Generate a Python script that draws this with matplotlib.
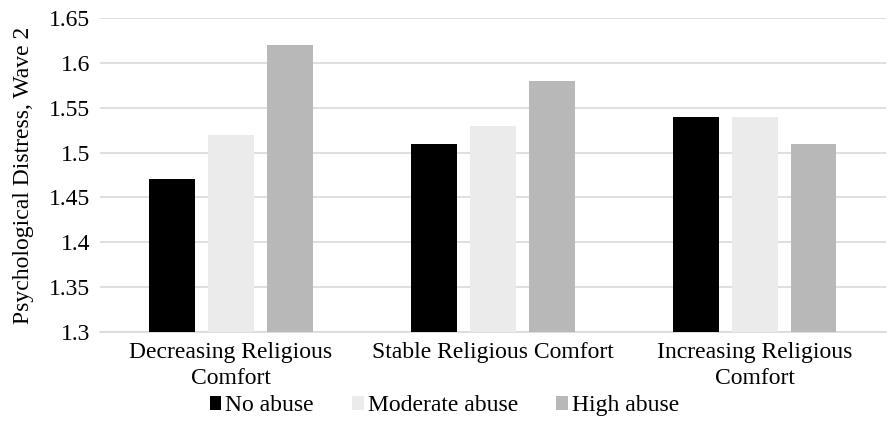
import matplotlib.pyplot as plt
import numpy as np

categories = ["Decreasing Religious\nComfort", "Stable Religious Comfort", "Increasing Religious\nComfort"]
series_names = ["No abuse", "Moderate abuse", "High abuse"]
no_abuse = [1.47, 1.51, 1.54]
moderate_abuse = [1.52, 1.53, 1.54]
high_abuse = [1.62, 1.58, 1.51]
y_ticks = [1.3, 1.35, 1.4, 1.45, 1.5, 1.55, 1.6, 1.65]
y_tick_labels = ["1.3", "1.35", "1.4", "1.45", "1.5", "1.55", "1.6", "1.65"]

colors = ["#000000", "#EBEBEB", "#B8B8B8"]

plt.rcParams["font.family"] = ["Liberation Serif", "DejaVu Serif"]
fs = 17

fig = plt.figure(figsize=(8.88, 4.26), dpi=100)
ax = fig.add_axes([0.1126, 0.2207, 0.885, 0.737])

x = np.arange(len(categories))
width = 0.175
step = 0.224
for i, (vals, name) in enumerate(zip([no_abuse, moderate_abuse, high_abuse], series_names)):
    ax.bar(x + (i - 1) * step, np.array(vals) - 1.3, bottom=1.3, width=width,
           color=colors[i], label=name, zorder=3)

ax.set_xlim(-0.5, 2.5)
ax.set_ylim(1.3, 1.65)
ax.set_yticks(y_ticks, y_tick_labels)
ax.set_xticks(x, categories)
for lbl in ax.get_xticklabels():
    lbl.set_linespacing(1.35)
ax.tick_params(axis="both", length=0, labelsize=fs, colors="#000000")
ax.tick_params(axis="x", pad=7)
ax.tick_params(axis="y", pad=7)
ax.grid(axis="y", color="#D9D9D9", linewidth=1.2, zorder=0)
for side in ["top", "right", "left"]:
    ax.spines[side].set_visible(False)
ax.spines["bottom"].set_color("#D9D9D9")
ax.spines["bottom"].set_linewidth(1.2)
ax.set_ylabel("Psychological Distress, Wave 2", fontsize=fs, labelpad=11)

ax.legend(loc="center", bbox_to_anchor=(0.438, -0.235), ncol=3, frameon=False,
          fontsize=fs, handlelength=0.5, handleheight=0.5, handletextpad=0.17,
          columnspacing=1.6, borderaxespad=0)

fig.savefig("out.png", dpi=100)
